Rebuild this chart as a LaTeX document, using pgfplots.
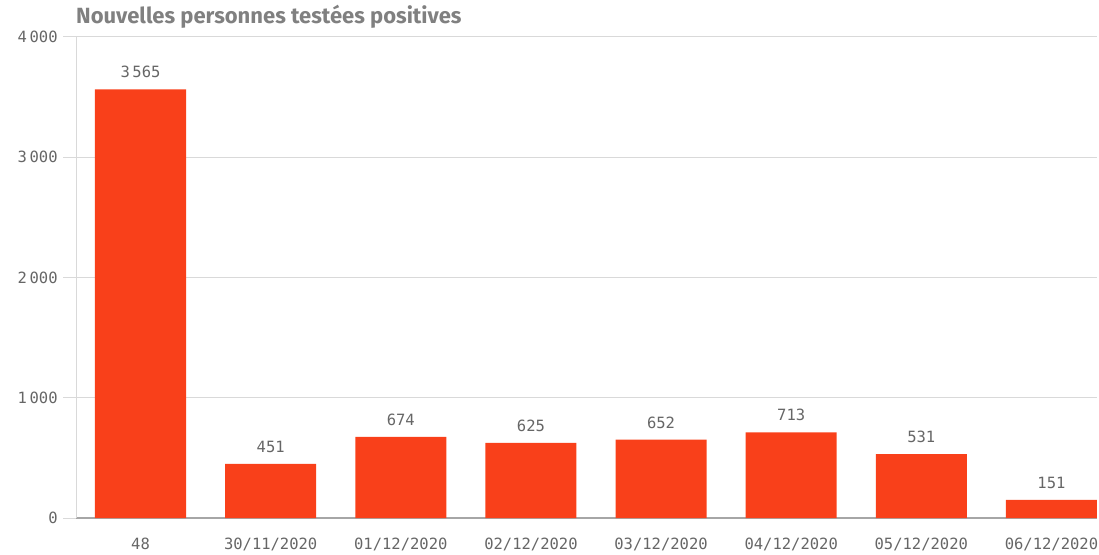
\documentclass[border=0pt]{standalone}
\usepackage{fontspec}
\setmainfont{DejaVu Sans Mono}
\newfontfamily\titlefont{Fira Sans}
\usepackage{pgfplots}
\pgfplotsset{compat=1.18}
\definecolor{barred}{HTML}{F9401A}
\definecolor{txtgray}{HTML}{666666}
\definecolor{titlegray}{HTML}{808080}
\definecolor{gridgray}{HTML}{D9D9D9}
\definecolor{basegray}{HTML}{A6A6A6}
\begin{document}
\fontsize{15.5}{18}\selectfont
\begin{tikzpicture}
\path[use as bounding box] (-76pt,-36pt) rectangle (1023pt,518pt);
\begin{axis}[
  name=ax,
  at={(0,0)}, anchor=south west,
  scale only axis,
  width=1021pt, height=481pt,
  xmin=-0.496, xmax=7.35,
  ymin=0, ymax=4000,
  axis lines*=left,
  x axis line style={draw=basegray, line width=1.6pt},
  y axis line style={draw=gridgray, line width=1pt},
  ymajorgrids,
  grid style={draw=gridgray, line width=1pt},
  ytick={0,1000,2000,3000,4000},
  xtick={0,1,2,3,4,5,6,7},
  xticklabels={48,30/11/2020,01/12/2020,02/12/2020,03/12/2020,04/12/2020,05/12/2020,06/12/2020},
  x tick style={draw=none},
  y tick style={draw=gridgray, line width=1pt},
  tick align=outside,
  major tick length=13pt,
  /pgf/number format/.cd, 1000 sep={\,}, assume math mode=true,
  /pgfplots/.cd,
  ticklabel style={font=\fontsize{15.5}{18}\selectfont, text=txtgray},
  xticklabel style={yshift=-2pt},
  ybar,
  bar width=0.7,
  nodes near coords={\pgfmathprintnumber{\pgfplotspointmeta}},
  nodes near coords style={font=\fontsize{15.5}{18}\selectfont, text=txtgray, anchor=south, inner sep=0pt, yshift=11pt},
]
\addplot[fill=barred, draw=none] coordinates {
  (0,3565) (1,451) (2,674) (3,625) (4,652) (5,713) (6,531) (7,151)
};
\end{axis}
\node[anchor=base west, inner sep=0pt, text=titlegray, font=\titlefont\bfseries\fontsize{22}{26}\selectfont] at ([yshift=13pt]ax.north west) {Nouvelles personnes testées positives};
\end{tikzpicture}
\end{document}
